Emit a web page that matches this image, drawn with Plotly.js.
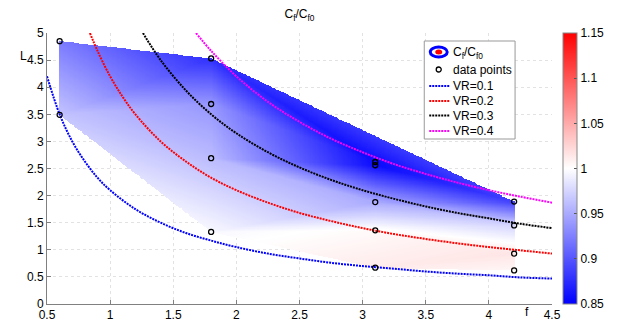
<!DOCTYPE html>
<html>
<head>
<meta charset="utf-8">
<script src="https://cdn.plot.ly/plotly-3.0.1.min.js"></script>
<style>html,body{margin:0;padding:0;background:#fff;}#chart{width:619px;height:327px;}</style>
</head>
<body>
<div id="chart"></div>
<script>
// ---- measured data points (f, L, Cf/Cf0) ----
const fPts = [0.6, 0.6, 1.8, 1.8, 1.8, 1.8, 3.1, 3.1, 3.1, 3.1, 3.1, 4.2, 4.2, 4.2, 4.2];
const LPts = [4.85, 3.49, 4.53, 3.69, 2.69, 1.33, 2.62, 2.56, 1.88, 1.36, 0.67, 1.89, 1.45, 0.93, 0.62];
const zPts = [0.922, 0.965, 0.878, 0.938, 0.960, 0.996, 0.856, 0.857, 0.950, 1.003, 1.012, 0.888, 0.975, 1.015, 1.005];

// ---- VR curves ----
const fVR1 = [0.5, 0.6, 0.7, 0.8, 0.9, 1, 1.2, 1.4, 1.6, 1.8, 2, 2.25, 2.5, 2.75, 3, 3.25, 3.5, 3.75, 4, 4.25, 4.5];
const LVR1 = [4.2, 3.5, 3.0, 2.63, 2.33, 2.1, 1.75, 1.5, 1.31, 1.17, 1.05, 0.93, 0.84, 0.76, 0.70, 0.65, 0.60, 0.56, 0.53, 0.49, 0.47];
const fVR2 = [0.84, 0.9, 1, 1.1, 1.2, 1.4, 1.6, 1.8, 2, 2.25, 2.5, 2.75, 3, 3.25, 3.5, 3.75, 4, 4.25, 4.5];
const LVR2 = [5.0, 4.67, 4.2, 3.82, 3.5, 3.0, 2.63, 2.33, 2.1, 1.87, 1.68, 1.53, 1.4, 1.29, 1.2, 1.12, 1.05, 0.99, 0.93];
const fVR3 = [1.26, 1.4, 1.6, 1.8, 2, 2.25, 2.5, 2.75, 3, 3.25, 3.5, 3.75, 4, 4.25, 4.5];
const LVR3 = [5.0, 4.5, 3.94, 3.5, 3.15, 2.8, 2.52, 2.29, 2.1, 1.94, 1.8, 1.68, 1.58, 1.48, 1.4];
const fVR4 = [1.68, 1.8, 2, 2.25, 2.5, 2.75, 3, 3.25, 3.5, 3.75, 4, 4.25, 4.5];
const LVR4 = [5.0, 4.67, 4.2, 3.73, 3.36, 3.05, 2.8, 2.58, 2.4, 2.24, 2.1, 1.98, 1.87];

const vrNames = ['VR=0.1', 'VR=0.2', 'VR=0.3', 'VR=0.4'];
const vrColors = ['#0000ff', '#ff0000', '#000000', '#ff00ff'];
const xTicks = [0.5, 1, 1.5, 2, 2.5, 3, 3.5, 4, 4.5];
const yTicks = [0, 0.5, 1, 1.5, 2, 2.5, 3, 3.5, 4, 4.5, 5];
const cTicks = [0.85, 0.9, 0.95, 1, 1.05, 1.1, 1.15];

// ---- build a gridded table (linear interpolation on Delaunay triangles, like griddata) ----
function delaunay(px, py) {
  const n = px.length, tris = [];
  for (let i = 0; i < n; i++) for (let j = i + 1; j < n; j++) for (let k = j + 1; k < n; k++) {
    const ax = px[i], ay = py[i], bx = px[j], by = py[j], cx = px[k], cy = py[k];
    const d = 2 * (ax * (by - cy) + bx * (cy - ay) + cx * (ay - by));
    if (Math.abs(d) < 1e-9) continue;
    const a2 = ax * ax + ay * ay, b2 = bx * bx + by * by, c2 = cx * cx + cy * cy;
    const ux = (a2 * (by - cy) + b2 * (cy - ay) + c2 * (ay - by)) / d;
    const uy = (a2 * (cx - bx) + b2 * (ax - cx) + c2 * (bx - ax)) / d;
    const r2 = (ax - ux) * (ax - ux) + (ay - uy) * (ay - uy);
    let ok = true;
    for (let m = 0; m < n && ok; m++) {
      if (m === i || m === j || m === k) continue;
      const dd = (px[m] - ux) * (px[m] - ux) + (py[m] - uy) * (py[m] - uy);
      if (dd < r2 - 1e-9) ok = false;
    }
    if (ok) tris.push([i, j, k]);
  }
  return tris;
}
const tris = delaunay(fPts, LPts);
function interp(x, y) {
  for (const t of tris) {
    const [i, j, k] = t;
    const x1 = fPts[i], y1 = LPts[i], x2 = fPts[j], y2 = LPts[j], x3 = fPts[k], y3 = LPts[k];
    const det = (y2 - y3) * (x1 - x3) + (x3 - x2) * (y1 - y3);
    const l1 = ((y2 - y3) * (x - x3) + (x3 - x2) * (y - y3)) / det;
    const l2 = ((y3 - y1) * (x - x3) + (x1 - x3) * (y - y3)) / det;
    const l3 = 1 - l1 - l2;
    const e = -1e-9;
    if (l1 >= e && l2 >= e && l3 >= e) return l1 * zPts[i] + l2 * zPts[j] + l3 * zPts[k];
  }
  return null;
}
const gx = [], gy = [], gz = [];
const xmin = Math.min(...fPts), xmax = Math.max(...fPts), ymin = Math.min(...LPts), ymax = Math.max(...LPts);
for (let x = xmin; x <= xmax + 1e-9; x += 0.01) gx.push(x);
for (let y = ymin; y <= ymax + 1e-9; y += 0.01) gy.push(y);
for (const y of gy) gz.push(gx.map(x => interp(x, y)));

const font = {family: 'Liberation Sans, Arial, sans-serif', size: 12, color: '#000'};
const lineStyle = c => ({color: c, width: 2, dash: '2px,1px', shape: 'spline'});

const traces = [
  {
    type: 'heatmap', x: gx, y: gy, z: gz, zsmooth: false, hoverinfo: 'skip', showlegend: false,
    zmin: 0.85, zmax: 1.15,
    colorscale: [[0, 'rgb(0,0,255)'], [0.5, 'rgb(255,255,255)'], [1, 'rgb(255,0,0)']],
    colorbar: {x: 1.0198, xanchor: 'left', xpad: 0, ypad: 0, y: 0.5, yanchor: 'middle', len: 1,
      thickness: 14, outlinewidth: 1, outlinecolor: '#888', tickvals: cTicks, ticktext: cTicks.map(String),
      ticks: 'inside', ticklen: 3, tickcolor: '#555', tickfont: font}
  },
  {type: 'scatter', mode: 'lines', x: fVR1, y: LVR1, name: vrNames[0], line: lineStyle(vrColors[0])},
  {type: 'scatter', mode: 'lines', x: fVR2, y: LVR2, name: vrNames[1], line: lineStyle(vrColors[1])},
  {type: 'scatter', mode: 'lines', x: fVR3, y: LVR3, name: vrNames[2], line: lineStyle(vrColors[2])},
  {type: 'scatter', mode: 'lines', x: fVR4, y: LVR4, name: vrNames[3], line: lineStyle(vrColors[3])},
  {type: 'scatter', mode: 'markers', x: fPts, y: LPts, name: 'data points',
    marker: {symbol: 'circle-open', size: 5, color: '#000', line: {color: '#000', width: 1.3}}}
];

// ---- legend box (drawn in plot-area pixel positions) ----
const PX = p => (p - 47) / 506;
const PY = p => (304 - p) / 271;
const shapes = [
  {type: 'rect', xref: 'paper', yref: 'paper', x0: PX(425), x1: PX(516), y0: PY(139), y1: PY(41),
    line: {color: '#999', width: 1}, fillcolor: '#fff', layer: 'above'},
  {type: 'circle', xref: 'paper', yref: 'paper', xsizemode: 'pixel', ysizemode: 'pixel',
    xanchor: PX(439.5), yanchor: PY(52), x0: -8.5, x1: 8.5, y0: -5, y1: 5,
    line: {color: '#0000ff', width: 3}, fillcolor: '#fff', layer: 'above'},
  {type: 'circle', xref: 'paper', yref: 'paper', xsizemode: 'pixel', ysizemode: 'pixel',
    xanchor: PX(439.5), yanchor: PY(52), x0: -3.5, x1: 3.5, y0: -2.5, y1: 2.5,
    line: {width: 0}, fillcolor: '#ff0000', layer: 'above'},
  {type: 'circle', xref: 'paper', yref: 'paper', xsizemode: 'pixel', ysizemode: 'pixel',
    xanchor: PX(439.5), yanchor: PY(69.5), x0: -2.5, x1: 2.5, y0: -2.5, y1: 2.5,
    line: {color: '#000', width: 1.3}, fillcolor: 'rgba(0,0,0,0)', layer: 'above'}
];
const legY = [86, 101, 115.5, 131];
const annotations = [
  {text: 'L', xref: 'paper', yref: 'paper', x: PX(18), y: PY(47), showarrow: false, font: font},
  {text: 'f', xref: 'paper', yref: 'paper', x: PX(532), y: PY(321), showarrow: false, font: font},
  {text: 'C<sub>f</sub>/C<sub>f0</sub>', xref: 'paper', yref: 'paper', x: PX(452), y: PY(53), xanchor: 'left', yanchor: 'middle', showarrow: false, font: font},
  {text: 'data points', xref: 'paper', yref: 'paper', x: PX(452), y: PY(70), xanchor: 'left', yanchor: 'middle', showarrow: false, font: font}
];
vrNames.forEach((nm, i) => {
  shapes.push({type: 'line', xref: 'paper', yref: 'paper', x0: PX(430), x1: PX(451), y0: PY(legY[i]), y1: PY(legY[i]),
    line: {color: vrColors[i], width: 2, dash: '2px,1px'}, layer: 'above'});
  annotations.push({text: nm, xref: 'paper', yref: 'paper', x: PX(452), y: PY(legY[i]), xanchor: 'left', yanchor: 'middle', showarrow: false, font: font});
});

const axisCommon = {
  showline: true, linecolor: '#808080', linewidth: 1, mirror: false,
  ticks: 'inside', ticklen: 4, tickcolor: '#808080',
  showgrid: true, gridcolor: '#e2e2e2', griddash: 'dot', gridwidth: 1,
  zeroline: false, tickfont: font
};

const layout = {
  width: 619, height: 327,
  margin: {l: 47, r: 66, t: 33, b: 23, pad: 0},
  paper_bgcolor: '#fff', plot_bgcolor: '#fff',
  font: font,
  title: {text: 'C<sub>f</sub>/C<sub>f0</sub>', x: 0.5, xref: 'paper', y: 1 - 14 / 327, yref: 'container', yanchor: 'middle', font: font},
  xaxis: Object.assign({}, axisCommon, {range: [0.5, 4.5], tickvals: xTicks, ticktext: xTicks.map(String)}),
  yaxis: Object.assign({}, axisCommon, {range: [0, 5], tickvals: yTicks, ticktext: yTicks.map(String)}),
  shapes: shapes,
  annotations: annotations,
  showlegend: false
};

Plotly.newPlot('chart', traces, layout, {displayModeBar: false, staticPlot: true});
</script>
</body>
</html>
